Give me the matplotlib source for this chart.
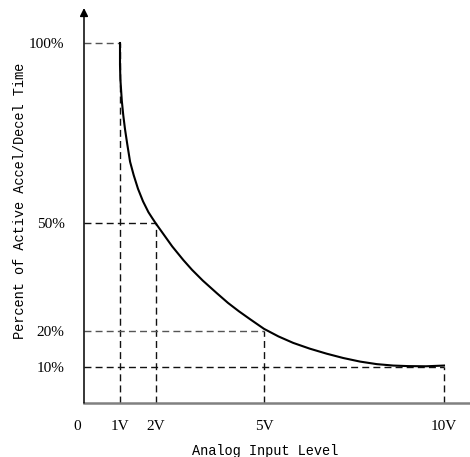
import matplotlib
matplotlib.use("Agg")
import matplotlib.pyplot as plt

# reference levels (input voltage, percent of accel/decel time)
ref_volts = [1, 2, 5, 10]
ref_pcts = [100, 50, 20, 10]

# curve
curve_v = [1.0, 1.0, 1.01, 1.03, 1.05, 1.09, 1.14, 1.2, 1.28, 1.38, 1.5, 1.64, 1.79,
           1.9, 2.0, 2.2, 2.45, 2.76, 3.0, 3.3, 3.69, 4.0, 4.3, 4.61, 5.0, 5.4, 5.81,
           6.27, 6.74, 7.2, 7.67, 8.13, 8.59, 9.0, 9.5, 10.0]
curve_p = [100, 94, 90, 87, 84, 80, 76, 72, 67, 63.3, 59.5, 56, 53,
           51.3, 49.8, 47, 43.5, 39.7, 37, 34, 30.5, 27.8, 25.5, 23.3, 20.6, 18.5, 16.7,
           15.1, 13.7, 12.5, 11.5, 10.8, 10.4, 10.25, 10.2, 10.4]

xtick_lbl = ['1V', '2V', '5V', '10V']
ytick_lbl = ['100%', '50%', '20%', '10%']

fig = plt.figure(figsize=(4.7, 4.57), dpi=100)
ax = fig.add_axes([84 / 470, 54 / 457, (470 - 84) / 470, (403 - 8) / 457])
ax.set_xlim(0, (470 - 84) / 36)
ax.set_ylim(0, (403 - 8) / 3.6)

# dashed guide lines
dash_cols = ['#555555', '#111111', '#555555', '#111111']
for v, p, c in zip(ref_volts, ref_pcts, dash_cols):
    ax.plot([0, v], [p, p], color=c, lw=1, ls=(0, (5, 3)))
    ax.plot([v, v], [0, p], color='#111111', lw=1, ls=(0, (5, 3)))

ax.plot(curve_v, curve_p, color='black', lw=1.5, solid_joinstyle='round')

# axes styling
for s in ['top', 'right', 'left']:
    ax.spines[s].set_visible(False)
ax.spines['bottom'].set_color('#808080')
ax.spines['bottom'].set_linewidth(1.8)
ax.annotate('', xy=(0, 1), xytext=(0, 0), xycoords='axes fraction',
            arrowprops=dict(arrowstyle='-|>', color='black', lw=1.1,
                            mutation_scale=12, shrinkA=0, shrinkB=0))

ax.set_xticks(ref_volts)
ax.set_xticklabels(xtick_lbl, family='Liberation Serif', fontsize=11)
ax.set_yticks(ref_pcts)
ax.set_yticklabels(ytick_lbl, family='Liberation Serif', fontsize=11)
ax.tick_params(axis='both', length=0)
ax.tick_params(axis='x', pad=12)
ax.tick_params(axis='y', pad=14)
ax.text(-0.2, -24 / 395, '0', transform=ax.get_xaxis_transform(),
        family='Liberation Serif', fontsize=11, ha='center', va='center')

fig.text(265 / 470, 1 - 451 / 457, 'Analog Input Level', family='Liberation Mono',
         fontsize=9.8, ha='center', va='center')
fig.text(20 / 470, 1 - 201 / 457, 'Percent of Active Accel/Decel Time',
         family='Liberation Mono', fontsize=9.8, ha='center', va='center',
         rotation=90)

fig.savefig('out.png', dpi=100)
